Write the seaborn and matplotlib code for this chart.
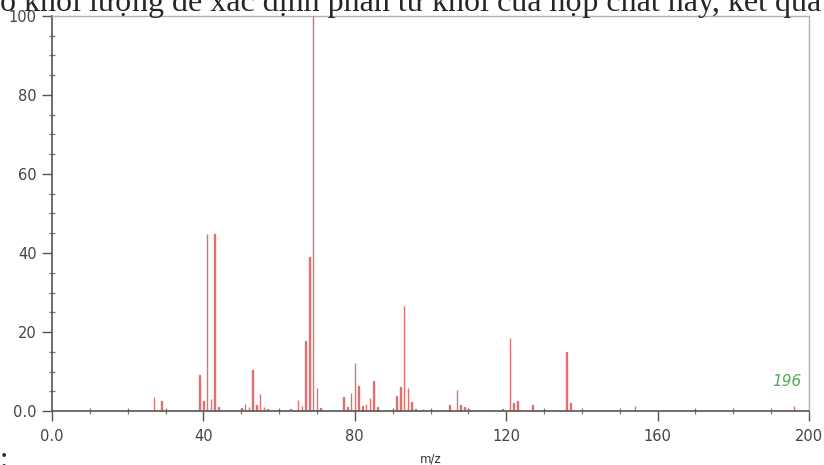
import pandas as pd
import seaborn as sns
import matplotlib.pyplot as plt
from matplotlib.ticker import MultipleLocator

# Mass spectrum peaks (m/z, relative intensity %)
mz = [27, 29, 39, 40, 41, 42, 43, 44, 50, 51, 52, 53, 54, 55, 56, 57, 63,
      65, 66, 67, 68, 69, 70, 71, 77, 78, 79, 80, 81, 82, 83, 84, 85, 86,
      91, 92, 93, 94, 95, 96, 98, 105, 107, 108, 109, 110, 119, 121, 122,
      123, 127, 136, 137, 154, 196]
intensity = [3.5, 2.5, 9.0, 2.5, 44.8, 3.0, 44.8, 1.0, 0.8, 1.8, 1.0, 10.3,
             1.5, 4.4, 1.0, 0.5, 0.5, 2.9, 1.2, 17.6, 39.0, 100.0, 5.7, 0.8,
             3.5, 1.0, 4.6, 12.1, 6.3, 1.2, 1.8, 3.2, 7.7, 1.0, 3.8, 6.1,
             26.5, 5.7, 2.2, 0.5, 0.5, 1.6, 5.3, 1.6, 1.0, 0.5, 0.5, 18.4,
             2.0, 2.6, 1.6, 15.0, 2.0, 1.3, 1.3]

x_ticks = [0, 40, 80, 120, 160, 200]
x_labels = ['0.0', '40', '80', '120', '160', '200']
y_ticks = [0, 20, 40, 60, 80, 100]
y_labels = ['0.0', '20', '40', '60', '80', '100']

df = pd.DataFrame({'mz': mz, 'intensity': intensity})

sns.set_style('ticks')
fig = plt.figure(figsize=(8.24, 4.65), dpi=100)
ax = fig.add_axes([52 / 824, 54 / 465, 757 / 824, 395 / 465])

sns.barplot(data=df, x='mz', y='intensity', native_scale=True, orient='x',
            width=0.15, color='#e07070', edgecolor='#e07070', linewidth=1.0,
            errorbar=None, ax=ax)

ax.set_xlim(0, 200)
ax.set_ylim(0, 100)
ax.set_xticks(x_ticks)
ax.set_xticklabels(x_labels)
ax.set_yticks(y_ticks)
ax.set_yticklabels(y_labels)
ax.xaxis.set_minor_locator(MultipleLocator(10))
ax.yaxis.set_minor_locator(MultipleLocator(5))
ax.tick_params(which='major', length=7, width=1, color='#555555',
               labelsize=10.5, labelcolor='#444444', pad=4)
ax.tick_params(axis='x', which='major', pad=6)
ax.tick_params(which='minor', length=4, width=0.9, color='#777777', direction='inout')
ax.set_xlabel('m/z', fontsize=8.5, color='#333333', labelpad=6)
ax.set_ylabel('')

for side in ['left', 'bottom']:
    ax.spines[side].set_color('#555555')
    ax.spines[side].set_linewidth(1.2)
for side in ['top', 'right']:
    ax.spines[side].set_visible(True)
    ax.spines[side].set_color('#b0b0b0')
    ax.spines[side].set_linewidth(1.0)

ax.text(198, 7.4, '196', color='#4caf50', fontsize=11, style='italic',
        ha='right', va='center')

# cut-off text from the surrounding page
fig.text(0.0, 1 - 11 / 465, 'o khối lượng để xác định phân tử khối của hợp chất này, kết quả',
         family='Liberation Serif', fontsize=23, ha='left', va='baseline')
fig.text(0.0, 1 - 468 / 465, ':', family='Liberation Serif', fontsize=22,
         ha='left', va='baseline')

plt.savefig('out.png', dpi=100)
